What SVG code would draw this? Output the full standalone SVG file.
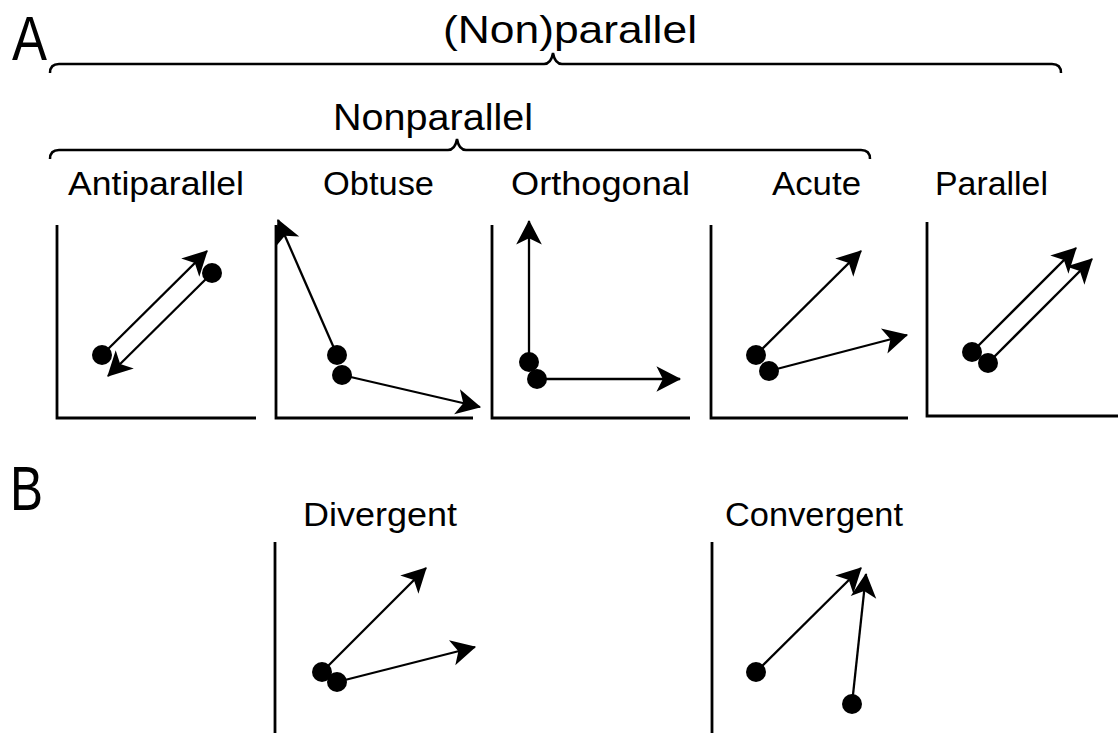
<svg xmlns="http://www.w3.org/2000/svg" width="1118" height="733" viewBox="0 0 1118 733">
<defs>
<marker id="ah" markerUnits="userSpaceOnUse" markerWidth="30" markerHeight="30" viewBox="-24 -14 26 28" refX="0" refY="0" orient="auto">
<path d="M1,0 L-22,-12 L-16,0 L-22,12 Z" fill="#000"/>
</marker>
</defs>
<style>
text{font-family:"Liberation Sans",Arial,sans-serif;fill:#000}
.big{font-size:63px}
.top{font-size:39px}
.mid{font-size:37px}
.lab{font-size:33px}
.axis{fill:none;stroke:#000;stroke-width:2.8}
.brace{fill:none;stroke:#000;stroke-width:2.5}
.vec{stroke:#000;stroke-width:2.3;marker-end:url(#ah)}
.dot{fill:#000}
</style>
<rect width="1118" height="733" fill="#fff"/>
<g id="headers">
<text class="big" x="12" y="60" textLength="35" lengthAdjust="spacingAndGlyphs">A</text>
<text class="big" x="10" y="510" textLength="33" lengthAdjust="spacingAndGlyphs">B</text>
<text class="top" x="443" y="43" textLength="254" lengthAdjust="spacingAndGlyphs">(Non)parallel</text>
<text class="mid" x="333" y="130" textLength="200" lengthAdjust="spacingAndGlyphs">Nonparallel</text>
<path class="brace" d="M50,73 Q50,64 59,64 L544,64 Q551,64 553,53 Q555,64 562,64 L1052,64 Q1061,64 1061,73"/>
<path class="brace" d="M50,159 Q50,150 59,150 L448,150 Q455,150 457,139 Q459,150 466,150 L861,150 Q870,150 870,159"/>
</g>
<g id="antiparallel">
<text class="lab" x="68" y="195" textLength="176" lengthAdjust="spacingAndGlyphs">Antiparallel</text>
<path class="axis" d="M57,225 V418 H256"/>
</g>
<g id="obtuse">
<text class="lab" x="323" y="195" textLength="111" lengthAdjust="spacingAndGlyphs">Obtuse</text>
<path class="axis" d="M276,225 V418 H473"/>
</g>
<g id="orthogonal">
<text class="lab" x="511" y="195" textLength="179" lengthAdjust="spacingAndGlyphs">Orthogonal</text>
<path class="axis" d="M492,225 V418 H690"/>
</g>
<g id="acute">
<text class="lab" x="772" y="195" textLength="89" lengthAdjust="spacingAndGlyphs">Acute</text>
<path class="axis" d="M711,225 V418 H908"/>
</g>
<g id="parallel">
<text class="lab" x="935" y="195" textLength="113" lengthAdjust="spacingAndGlyphs">Parallel</text>
<path class="axis" d="M927,222 V416 H1118"/>
</g>
<g id="divergent">
<text class="lab" x="303" y="526" textLength="154" lengthAdjust="spacingAndGlyphs">Divergent</text>
<path class="axis" d="M275,542 V733"/>
</g>
<g id="convergent">
<text class="lab" x="725" y="526" textLength="178" lengthAdjust="spacingAndGlyphs">Convergent</text>
<path class="axis" d="M712,542 V733"/>
</g>
<g id="connectors">
<line class="vec" x1="102" y1="355" x2="207" y2="251"/>
<line class="vec" x1="212" y1="273" x2="108" y2="376"/>
<line class="vec" x1="337" y1="355" x2="278" y2="220"/>
<line class="vec" x1="342" y1="375" x2="480" y2="407"/>
<line class="vec" x1="529" y1="362" x2="529" y2="221"/>
<line class="vec" x1="537" y1="379" x2="680" y2="379"/>
<line class="vec" x1="756" y1="355" x2="861" y2="251"/>
<line class="vec" x1="769" y1="371" x2="907" y2="335"/>
<line class="vec" x1="972" y1="352" x2="1076" y2="248"/>
<line class="vec" x1="988" y1="363" x2="1092" y2="259"/>
<line class="vec" x1="322" y1="672" x2="426" y2="568"/>
<line class="vec" x1="337" y1="682" x2="475" y2="647"/>
<line class="vec" x1="756" y1="672" x2="861" y2="568"/>
<line class="vec" x1="852" y1="704" x2="866" y2="574"/>
</g>
<g id="dots">
<circle class="dot" cx="102" cy="355" r="10"/>
<circle class="dot" cx="212" cy="273" r="10"/>
<circle class="dot" cx="337" cy="355" r="10"/>
<circle class="dot" cx="342" cy="375" r="10"/>
<circle class="dot" cx="529" cy="362" r="10"/>
<circle class="dot" cx="537" cy="379" r="10"/>
<circle class="dot" cx="756" cy="355" r="10"/>
<circle class="dot" cx="769" cy="371" r="10"/>
<circle class="dot" cx="972" cy="352" r="10"/>
<circle class="dot" cx="988" cy="363" r="10"/>
<circle class="dot" cx="322" cy="672" r="10"/>
<circle class="dot" cx="337" cy="682" r="10"/>
<circle class="dot" cx="756" cy="672" r="10"/>
<circle class="dot" cx="852" cy="704" r="10"/>
</g>
</svg>
